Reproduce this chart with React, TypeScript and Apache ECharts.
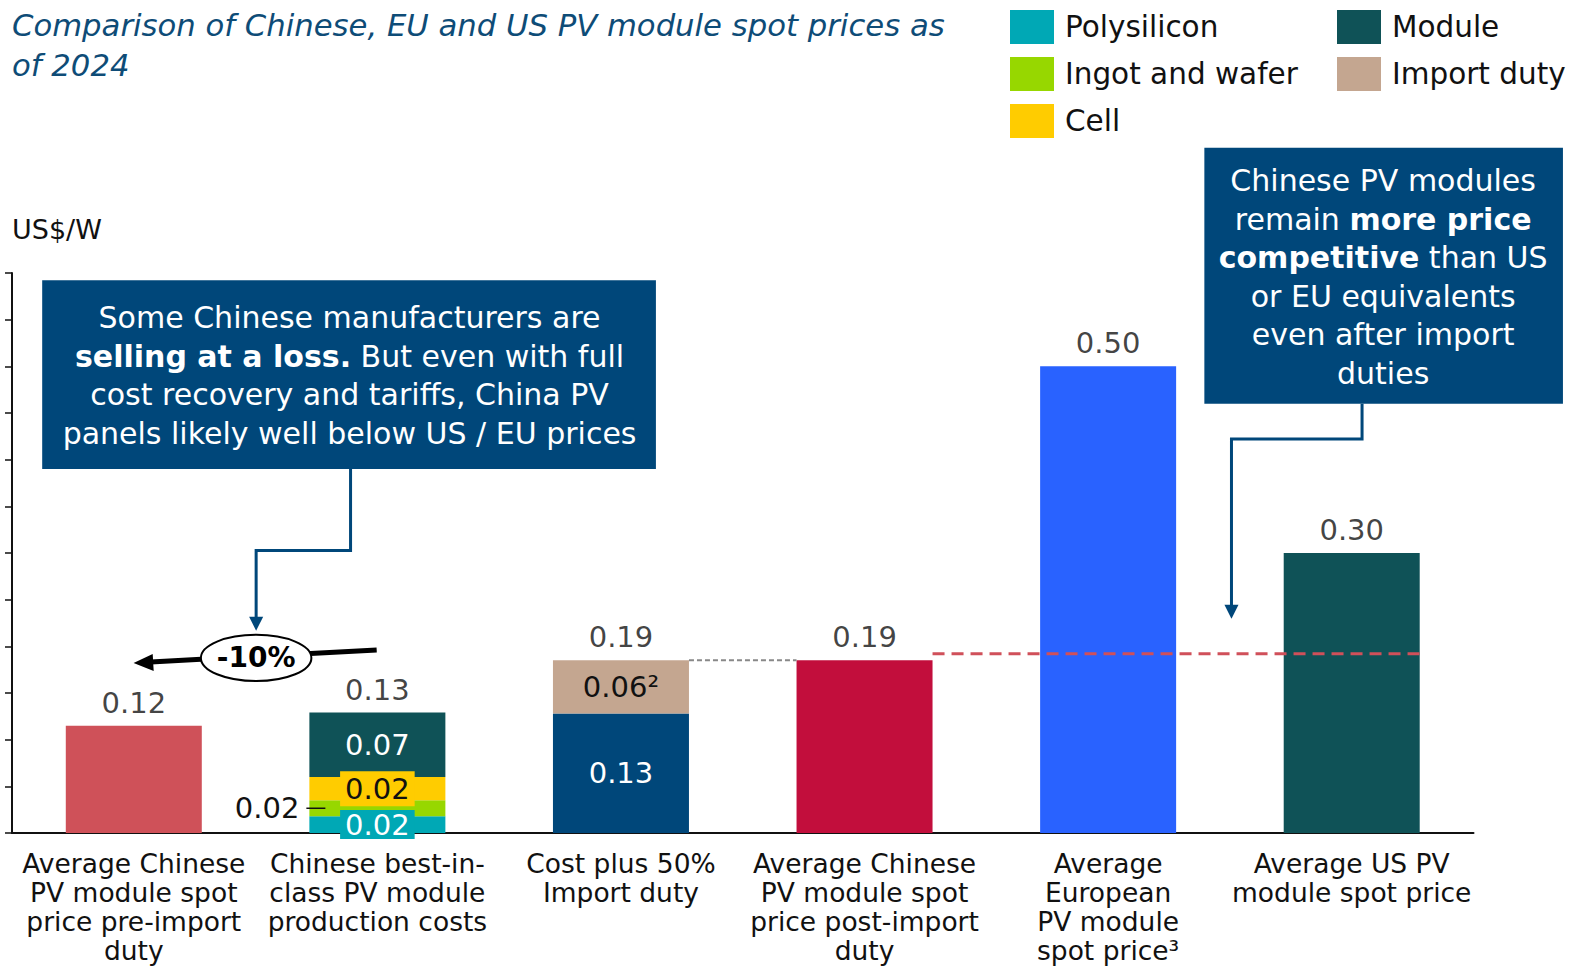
import React, { useEffect, useRef } from "react";
import * as echarts from "echarts";

const FONT = "DejaVu Sans";

const categories = [
  "Average Chinese\nPV module spot\nprice pre-import\nduty",
  "Chinese best-in-\nclass PV module\nproduction costs",
  "Cost plus 50%\nImport duty",
  "Average Chinese\nPV module spot\nprice post-import\nduty",
  "Average\nEuropean\nPV module\nspot price³",
  "Average US PV\nmodule spot price",
];

const priceValues: (number | string)[] = [0.115, "-", "-", 0.185, 0.5, 0.3];
const priceColors = ["#CF5159", "#CF5159", "#CF5159", "#C20E3C", "#2962FF", "#0F5257"];
const polysilicon: (number | string)[] = ["-", 0.018, "-", "-", "-", "-"];
const ingotWafer: (number | string)[] = ["-", 0.017, "-", "-", "-", "-"];
const cellCost: (number | string)[] = ["-", 0.025, "-", "-", "-", "-"];
const moduleCost: (number | string)[] = ["-", 0.069, "-", "-", "-", "-"];
const chinaCost: (number | string)[] = ["-", "-", 0.128, "-", "-", "-"];
const importDuty: (number | string)[] = ["-", "-", 0.057, "-", "-", "-"];

const totals = [0.115, 0.129, 0.185, 0.185, 0.5, 0.3];
const totalLabels = ["0.12", "0.13", "0.19", "0.19", "0.50", "0.30"];

const polysiliconLabel = "0.02";
const ingotLabel = "0.02";
const cellLabel = "0.02";
const moduleLabel = "0.07";
const chinaCostLabel = "0.13";
const importDutyLabel = "0.06²";

const refLineValue = 0.192;

const C = {
  poly: "#00A8B5",
  ingot: "#97D700",
  cell: "#FFCC00",
  module: "#0F5257",
  duty: "#C4A690",
  navy: "#00477A",
};

const S = 1575 / 1568;
const s = (v: number) => v * S;
const pt = (x: number, y: number) => [s(x), s(y)];

export default function App() {
  const ref = useRef<HTMLDivElement>(null);
  useEffect(() => {
    document.body.style.margin = "0";
    const chart = echarts.init(ref.current!, null, { renderer: "svg" });
    const BW = 136;
    const insideLabel = (text: string, color: string, bg?: string, lh = 29) => ({
      show: true,
      position: "inside",
      formatter: () => text,
      color,
      fontFamily: FONT,
      fontSize: 29,
      backgroundColor: bg || "transparent",
      padding: bg ? [0, 5, 0, 5] : 0,
      lineHeight: lh,
    });
    const option: any = {
      animation: false,
      textStyle: { fontFamily: FONT },
      title: {
        text: "Comparison of Chinese, EU and US PV module spot prices as\nof 2024",
        left: 7,
        top: 0,
        textStyle: {
          fontFamily: FONT,
          fontStyle: "italic",
          fontWeight: "normal",
          fontSize: 30.7,
          lineHeight: 40,
          color: "#0E4C77",
        },
      },
      legend: [
        {
          data: ["Polysilicon", "Ingot and wafer", "Cell"],
          orient: "vertical",
          left: 1005,
          top: 5,
          itemWidth: 44,
          itemHeight: 34,
          itemGap: 13,
          icon: "rect",
          selectedMode: false,
          textStyle: { fontFamily: FONT, fontSize: 29.5, color: "#111", padding: [0, 0, 0, 6] },
        },
        {
          data: ["Module", "Import duty"],
          orient: "vertical",
          left: 1332,
          top: 5,
          itemWidth: 44,
          itemHeight: 34,
          itemGap: 13,
          icon: "rect",
          selectedMode: false,
          textStyle: { fontFamily: FONT, fontSize: 29.5, color: "#111", padding: [0, 0, 0, 6] },
        },
      ],
      grid: { left: 12, right: 101.5, top: 273, bottom: 133, containLabel: false },
      xAxis: {
        type: "category",
        data: categories,
        axisLine: { lineStyle: { color: "#111", width: 2 } },
        axisTick: { show: false },
        axisLabel: {
          interval: 0,
          margin: 16,
          fontFamily: FONT,
          fontSize: 26.5,
          lineHeight: 29,
          color: "#111",
          verticalAlign: "top",
        },
      },
      yAxis: {
        type: "value",
        min: 0,
        max: 0.6,
        interval: 0.05,
        name: "US$/W",
        nameLocation: "end",
        nameGap: 30,
        nameTextStyle: { fontFamily: FONT, fontSize: 27, color: "#111", align: "left" },
        axisLine: { show: true, lineStyle: { color: "#111", width: 2 } },
        axisTick: { show: true, length: 7, lineStyle: { color: "#111", width: 1.5 } },
        axisLabel: { show: false },
        splitLine: { show: false },
      },
      series: [
        {
          name: "Price",
          type: "bar",
          stack: "a",
          barWidth: BW,
          data: priceValues.map((v, i) => ({ value: v, itemStyle: { color: priceColors[i] } })),
        },
        {
          name: "Polysilicon",
          type: "bar",
          stack: "a",
          barWidth: BW,
          itemStyle: { color: C.poly },
          data: polysilicon,
          label: insideLabel(polysiliconLabel, "#fff", C.poly, 29),
        },
        {
          name: "Ingot and wafer",
          type: "bar",
          stack: "a",
          barWidth: BW,
          itemStyle: { color: C.ingot },
          data: ingotWafer,
          label: {
            show: true,
            position: "left",
            distance: 10,
            formatter: () => ingotLabel,
            color: "#111",
            fontFamily: FONT,
            fontSize: 29,
          },
        },
        {
          name: "Cell",
          type: "bar",
          stack: "a",
          barWidth: BW,
          itemStyle: { color: C.cell },
          data: cellCost,
          label: insideLabel(cellLabel, "#111", C.cell, 35),
        },
        {
          name: "Module",
          type: "bar",
          stack: "a",
          barWidth: BW,
          itemStyle: { color: C.module },
          data: moduleCost,
          label: insideLabel(moduleLabel, "#fff"),
        },
        {
          name: "China cost",
          type: "bar",
          stack: "a",
          barWidth: BW,
          itemStyle: { color: C.navy },
          data: chinaCost,
          label: insideLabel(chinaCostLabel, "#fff"),
        },
        {
          name: "Import duty",
          type: "bar",
          stack: "a",
          barWidth: BW,
          itemStyle: { color: C.duty },
          data: importDuty,
          label: insideLabel(importDutyLabel, "#111"),
        },
        {
          name: "Totals",
          type: "scatter",
          symbolSize: 1,
          itemStyle: { color: "transparent" },
          data: totals,
          z: 5,
          label: {
            show: true,
            position: "top",
            distance: 8,
            formatter: (p: any) => totalLabels[p.dataIndex],
            color: "#111",
            fontFamily: FONT,
            fontSize: 29,
          },
        },
      ],
    };
    chart.setOption(option);

    const px = (i: number, v: number) => chart.convertToPixel({ gridIndex: 0 }, [i, v]) as number[];
    const half = BW / 2;
    const p3 = px(2, totals[2]);
    const p4 = px(3, totals[3]);
    const r4 = px(3, refLineValue);
    const r6 = px(5, refLineValue);
    const ing = px(1, (polysilicon[1] as number) + (ingotWafer[1] as number) / 2);

    const boxText = { fontFamily: FONT, fontSize: 30, fill: "#fff" };
    chart.setOption({
      graphic: [
        {
          type: "line",
          shape: { x1: p3[0] + half, y1: p3[1], x2: p4[0] - half, y2: p3[1] },
          style: { stroke: "#888", lineWidth: 2, lineDash: [5, 3] },
          z: 10,
        },
        {
          type: "line",
          shape: { x1: r4[0] + half, y1: r4[1], x2: r6[0] + half, y2: r6[1] },
          style: { stroke: "#D0505A", lineWidth: 3, lineDash: [12, 7] },
          z: 10,
        },
        {
          type: "line",
          shape: { x1: ing[0] - half - 3, y1: ing[1], x2: ing[0] - half + 16, y2: ing[1] },
          style: { stroke: "#111", lineWidth: 1.5 },
          z: 10,
        },
        {
          type: "rect",
          shape: { x: s(42), y: s(279), width: s(611), height: s(188) },
          style: { fill: C.navy },
          z: 10,
        },
        {
          type: "text",
          x: s(348),
          y: s(374),
          z: 11,
          style: {
            ...boxText,
            text:
              "Some Chinese manufacturers are\n{b|selling at a loss.} But even with full\ncost recovery and tariffs, China PV\npanels likely well below US / EU prices",
            align: "center",
            verticalAlign: "middle",
            lineHeight: 38.5,
            rich: { b: { fontFamily: FONT, fontSize: 30, fontWeight: "bold", fill: "#fff", lineHeight: 38.5 } },
          },
        },
        {
          type: "polyline",
          shape: { points: [pt(349, 467), pt(349, 548), pt(255, 548), pt(255, 616)] },
          style: { stroke: C.navy, lineWidth: 3, fill: null },
          z: 10,
        },
        {
          type: "polygon",
          shape: { points: [pt(248, 614), pt(262, 614), pt(255, 628)] },
          style: { fill: C.navy },
          z: 10,
        },
        {
          type: "line",
          shape: { x1: s(375), y1: s(647), x2: s(150), y2: s(659) },
          style: { stroke: "#000", lineWidth: 5 },
          z: 10,
        },
        {
          type: "polygon",
          shape: { points: [pt(133, 660), pt(152, 651), pt(153, 668)] },
          style: { fill: "#000" },
          z: 10,
        },
        {
          type: "ellipse",
          shape: { cx: s(255), cy: s(655), rx: s(55), ry: s(23) },
          style: { fill: "#fff", stroke: "#000", lineWidth: 2 },
          z: 11,
        },
        {
          type: "text",
          x: s(255),
          y: s(655),
          z: 12,
          style: {
            text: "-10%",
            fontFamily: FONT,
            fontSize: 28,
            fontWeight: "bold",
            fill: "#000",
            align: "center",
            verticalAlign: "middle",
          },
        },
        {
          type: "rect",
          shape: { x: s(1199), y: s(147), width: s(357), height: s(255) },
          style: { fill: C.navy },
          z: 10,
        },
        {
          type: "text",
          x: s(1377),
          y: s(276),
          z: 11,
          style: {
            ...boxText,
            text:
              "Chinese PV modules\nremain {b|more price}\n{b|competitive} than US\nor EU equivalents\neven after import\nduties",
            align: "center",
            verticalAlign: "middle",
            lineHeight: 38.5,
            rich: { b: { fontFamily: FONT, fontSize: 30, fontWeight: "bold", fill: "#fff", lineHeight: 38.5 } },
          },
        },
        {
          type: "polyline",
          shape: { points: [pt(1356, 402), pt(1356, 437), pt(1226, 437), pt(1226, 604)] },
          style: { stroke: C.navy, lineWidth: 3, fill: null },
          z: 10,
        },
        {
          type: "polygon",
          shape: { points: [pt(1219, 602), pt(1233, 602), pt(1226, 616)] },
          style: { fill: C.navy },
          z: 10,
        },
      ],
    });
    return () => chart.dispose();
  }, []);
  return (
    <div
      ref={ref}
      style={{ position: "absolute", left: 0, top: 0, width: 1575, height: 966, background: "#fff" }}
    />
  );
}
